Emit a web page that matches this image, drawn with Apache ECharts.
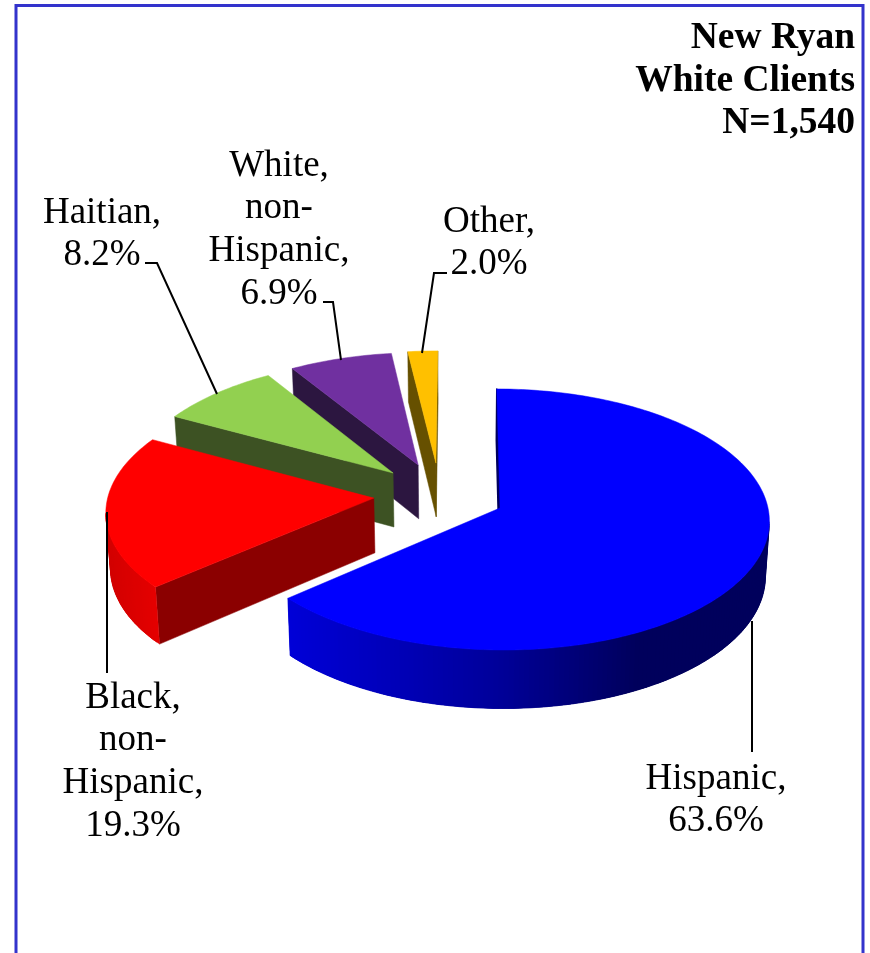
<!DOCTYPE html>
<html>
<head>
<meta charset="utf-8">
<style>html,body{margin:0;padding:0;background:#fff}#chart{width:870px;height:953px}</style>
<script src="https://cdn.jsdelivr.net/npm/echarts@6/dist/echarts.min.js"></script>
</head>
<body>
<div id="chart"></div>
<script>
// ---- data ----
const categories = ['Hispanic', 'Black, non-Hispanic', 'Haitian', 'White, non-Hispanic', 'Other'];
const values = [63.6, 19.3, 8.2, 6.9, 2.0];
const labelLines = [
  ['Hispanic,'],
  ['Black,', 'non-', 'Hispanic,'],
  ['Haitian,'],
  ['White,', 'non-', 'Hispanic,'],
  ['Other,']
];
const titleLines = ['New Ryan', 'White Clients', 'N=1,540'];

// ---- styles ----
const topColors = ['#0000ff', '#ff0000', '#92d050', '#7030a0', '#ffc000'];
const cutColors = ['#00005c', '#8b0000', '#3d5223', '#2c1640', '#665000'];
const wallStops = [
  [[0, '#00005c'], [0.27, '#00005c'], [0.56, '#00009a'], [0.77, '#0000b8'], [1, '#0000d8']],
  [[0, '#e40000'], [1, '#d20000']],
  [[0, '#3d5223'], [1, '#3d5223']],
  [[0, '#2c1640'], [1, '#2c1640']],
  [[0, '#665000'], [1, '#665000']]
];
// explosion of each slice on the pie's plane, in radii
const explodeU = [0, -0.473, -0.405, -0.31, -0.242];
const explodeV = [0, -0.077, -0.277, -0.342, -0.358];
const paintOrder = [4, 3, 2, 1, 0];

// ---- 3D projection ----
const CX = 500, CY = 508, RX = 268, RY = 129.5, K = 0.088, VX = 460, TAPER = 0.013;
function project(u, v, lower) {
  const s = 1 / (1 - K * v);
  let x = VX + (CX + RX * u - VX) * s;
  let y = CY + RY * v * s;
  if (lower) {
    x = VX + (x - VX) * (1 - TAPER);
    y += 55 + 3.5 * v;
  }
  return [x, y];
}
const total = values.reduce((a, b) => a + b, 0);
const startAngles = [];
values.reduce((acc, v, i) => { startAngles[i] = acc; return acc + v / total * 360; }, 0);

function rimPoint(i, deg, lower) {
  const t = deg * Math.PI / 180;
  return project(explodeU[i] + Math.sin(t), explodeV[i] - Math.cos(t), lower);
}
function apex(i, lower) { return project(explodeU[i], explodeV[i], lower); }
function area(p) {
  let a = 0;
  for (let j = 0; j < p.length; j++) {
    const q = p[(j + 1) % p.length];
    a += p[j][0] * q[1] - q[0] * p[j][1];
  }
  return a / 2;
}
function poly(points, fill, lineWidth) {
  return { type: 'polygon', shape: { points }, style: { fill, stroke: fill, lineWidth: lineWidth || 0.5, lineJoin: 'round' } };
}
function wallColor(i, t) {
  const st = wallStops[i];
  for (let j = 1; j < st.length; j++) {
    if (t <= st[j][0]) {
      const f = (t - st[j - 1][0]) / (st[j][0] - st[j - 1][0]);
      return echarts.color.lerp(f, [st[j - 1][1], st[j][1]]);
    }
  }
  return st[st.length - 1][1];
}

function renderSlice(params, api) {
  const i = api.value(0);
  const a0 = startAngles[i];
  const a1 = a0 + api.value(1) / total * 360;
  const children = [];
  const N = Math.max(8, Math.round(a1 - a0));
  const angles = [];
  for (let j = 0; j <= N; j++) angles.push(a0 + (a1 - a0) * j / N);

  // start cut face
  const qs = [apex(i), rimPoint(i, a0), rimPoint(i, a0, true), apex(i, true)];
  if (area(qs) < 0 || i === 0) children.push(poly(qs, cutColors[i], i === 0 ? 1.5 : 0.5));
  // end cut face
  const qe = [apex(i), rimPoint(i, a1), rimPoint(i, a1, true), apex(i, true)];
  if (area(qe) > 0 && i !== 0) children.push(poly(qe, cutColors[i]));
  // outer wall: overlapping thin quads, only where it faces the viewer
  const facing = [];
  for (let j = 0; j < N; j++) {
    if (rimPoint(i, angles[j + 1])[0] < rimPoint(i, angles[j])[0]) facing.push(j);
  }
  if (facing.length) {
    const xs = facing.map(j => rimPoint(i, angles[j])[0]).concat([rimPoint(i, angles[facing[facing.length - 1] + 1])[0]]);
    const minX = Math.min.apply(null, xs), maxX = Math.max.apply(null, xs);
    const lastIdx = facing[facing.length - 1] + 1;
    facing.forEach(j => {
      const e = Math.min(j + 3, lastIdx);
      const pts = [];
      for (let m = j; m <= e; m++) pts.push(rimPoint(i, angles[m]));
      for (let m = e; m >= j; m--) pts.push(rimPoint(i, angles[m], true));
      const t = (maxX - rimPoint(i, angles[j])[0]) / (maxX - minX);
      children.push(poly(pts, wallColor(i, t), 0.3));
    });
  }
  // top face
  const top = [apex(i)].concat(angles.map(d => rimPoint(i, d)));
  children.push(poly(top, topColors[i]));
  return { type: 'group', children };
}

// ---- text and leader lines ----
const FONT = '"Liberation Serif", "Times New Roman", serif';
const labelAnchors = [[716, 779], [133, 698], [102, 213], [279, 166], [489, 222]];
const LINE_H = 42.7;
function labelText(i) {
  return labelLines[i].concat([values[i].toFixed(1) + '%']).join('\n');
}
const labelGraphics = categories.map((c, i) => ({
  type: 'text', z: 20, silent: true,
  x: labelAnchors[i][0], y: labelAnchors[i][1] - LINE_H / 2,
  style: {
    text: labelText(i), fill: '#000', font: '37px ' + FONT,
    textAlign: 'center', textVerticalAlign: 'top', lineHeight: LINE_H
  }
}));
const leaders = [
  [[752, 621], [752, 752]],
  [[107, 512], [107, 673]],
  [[145, 263], [157, 263], [217, 394]],
  [[323, 302], [333, 302], [341, 360]],
  [[447, 273], [434, 273], [422, 353]]
];
const leaderGraphics = leaders.map(points => ({
  type: 'polyline', z: 15, silent: true, shape: { points },
  style: { stroke: '#000', lineWidth: 2, fill: null }
}));

const chart = echarts.init(document.getElementById('chart'));
chart.setOption({
  animation: false,
  backgroundColor: '#fff',
  title: {
    text: titleLines.join('\n'),
    left: 855, top: 17,
    padding: 0,
    textAlign: 'right',
    textStyle: { fontFamily: FONT, fontSize: 37.5, fontWeight: 'bold', color: '#000', lineHeight: 42.7 }
  },
  graphic: [{
    type: 'rect', z: 1, silent: true,
    shape: { x: 16, y: 5.5, width: 847, height: 980 },
    style: { fill: 'none', stroke: '#3333cc', lineWidth: 3 }
  }].concat(leaderGraphics, labelGraphics),
  series: [{
    type: 'custom',
    coordinateSystem: 'none',
    silent: true,
    renderItem: renderSlice,
    encode: { value: 1 },
    data: paintOrder.map(i => [i, values[i]])
  }]
});
</script>
</body>
</html>
